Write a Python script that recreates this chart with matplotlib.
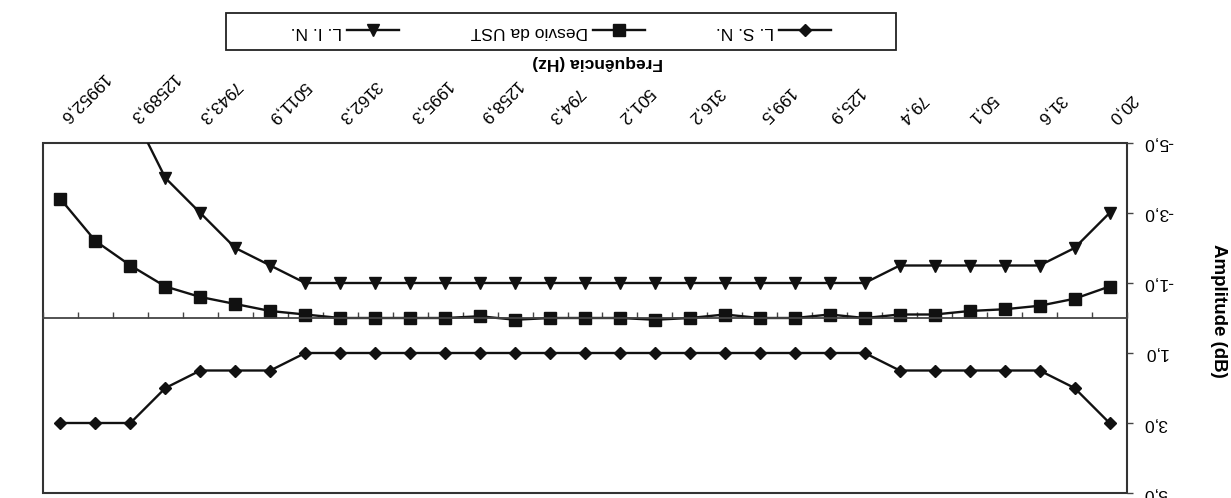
import numpy as np
import matplotlib.pyplot as plt
from matplotlib.patches import Rectangle
from matplotlib.ticker import FixedLocator

plt.rcParams['font.family'] = ['Liberation Sans', 'DejaVu Sans']

# bandas de 1/3 de oitava (Hz)
freq = [20.0, 25.1, 31.6, 39.8, 50.1, 63.1, 79.4, 100.0, 125.9, 158.5,
        199.5, 251.2, 316.2, 398.1, 501.2, 631.0, 794.3, 1000.0, 1258.9, 1584.9,
        1995.3, 2511.9, 3162.3, 3981.1, 5011.9, 6309.6, 7943.3, 10000.0, 12589.3,
        15848.9, 19952.6]

# limite superior
lsn = [3.0, 2.0, 1.5, 1.5, 1.5, 1.5, 1.5,
       1.0, 1.0, 1.0, 1.0, 1.0, 1.0, 1.0, 1.0, 1.0, 1.0, 1.0, 1.0, 1.0, 1.0, 1.0, 1.0, 1.0,
       1.5, 1.5, 1.5, 2.0, 3.0, 3.0, 3.0]

# desvio medido
desvio = [-0.9, -0.55, -0.35, -0.25, -0.2, -0.1, -0.1, 0.0, -0.1, 0.0,
          0.0, -0.1, 0.0, 0.05, 0.0, 0.0, 0.0, 0.05, -0.05, 0.0,
          0.0, 0.0, 0.0, -0.1, -0.2, -0.4, -0.6, -0.9, -1.5, -2.2, -3.4]

# limite inferior
lin = [-3.0, -2.0, -1.5, -1.5, -1.5, -1.5, -1.5,
       -1.0, -1.0, -1.0, -1.0, -1.0, -1.0, -1.0, -1.0, -1.0, -1.0, -1.0, -1.0, -1.0, -1.0,
       -1.0, -1.0, -1.0,
       -1.5, -2.0, -3.0, -4.0, -6.0, np.nan, np.nan]

y_ticks = [-5, -3, -1, 1, 3, 5]
y_labels = ['-5,0', '-3,0', '-1,0', '1,0', '3,0', '5,0']
x_labels = [f'{f:.1f}'.replace('.', ',') for f in freq[::2]]

W, H = 1231, 498
fig = plt.figure(figsize=(W / 100, H / 100), dpi=100)
ax = fig.add_axes([43 / W, 5 / H, 1084 / W, 350 / H])

x = np.arange(len(freq))
ln_lsn, = ax.plot(x, lsn, color='#111111', lw=1.7, marker='D', ms=6.5, label='L. S. N.')
ln_des, = ax.plot(x, desvio, color='#111111', lw=1.7, marker='s', ms=8.5, label='Desvio da UST')
ln_lin, = ax.plot(x, lin, color='#111111', lw=1.7, marker='v', ms=8.5, label='L. I. N.')

# figura digitalizada de cabeça para baixo
ax.set_xlim(len(freq) - 0.5, -0.5)
ax.set_ylim(5, -5)

# caixa da área do gráfico e eixo horizontal no zero
ax.patch.set_edgecolor('#333333')
ax.patch.set_linewidth(1.5)
for s in ['left', 'right', 'top']:
    ax.spines[s].set_visible(False)
ax.spines['bottom'].set_position(('data', 0))
ax.spines['bottom'].set_color('#444444')
ax.spines['bottom'].set_linewidth(1.3)

ax.set_xticks(x[::2])
ax.set_xticklabels(x_labels)
ax.xaxis.set_minor_locator(FixedLocator(np.arange(-0.5, len(freq), 1)))
ax.tick_params(axis='x', which='major', bottom=False, top=False,
               labelbottom=False, labeltop=True, labelsize=12.5, pad=13,
               labelrotation=225)
ax.tick_params(axis='x', which='minor', bottom=True, top=False,
               direction='in', length=4, width=1, color='#444444')
plt.setp(ax.get_xticklabels(), ha='right', va='center', rotation_mode='anchor')

ax.set_yticks(y_ticks)
ax.set_yticklabels(y_labels)
ax.tick_params(axis='y', left=False, right=True, labelleft=False, labelright=True,
               direction='out', length=4, width=1, color='#444444',
               labelsize=12.5, pad=8, labelrotation=180)
plt.setp(ax.get_yticklabels(), va='center')

ax.set_xlabel('Frequência (Hz)', fontweight='bold', fontsize=12.5, rotation=180)
ax.xaxis.set_label_position('top')
ax.xaxis.set_label_coords(0.512, 1.231)
ax.xaxis.label.set_va('center')
ax.xaxis.label.set_ha('center')

ax.set_ylabel('Amplitude (dB)', fontweight='bold', fontsize=13.5, rotation=270)
ax.yaxis.set_label_position('right')
ax.yaxis.set_label_coords(1.0845, 0.52)
ax.yaxis.label.set_va('center')
ax.yaxis.label.set_ha('center')

# legenda (também invertida)
leg = fig.legend([ln_lin, ln_des, ln_lsn], ['L. I. N.', 'Desvio da UST', 'L. S. N.'],
                 loc='center', bbox_to_anchor=(561 / W, 1 - 31.5 / H), ncol=3,
                 frameon=False, markerfirst=False, handlelength=3.0,
                 handletextpad=0.3, columnspacing=4.1, fontsize=12.5)
for t in leg.get_texts():
    t.set_rotation(180)
fig.add_artist(Rectangle((226 / W, 1 - 50 / H), 670 / W, 37 / H, transform=fig.transFigure,
                         fill=False, lw=1.3, ec='#222222'))

fig.savefig('out.png', dpi=100)
